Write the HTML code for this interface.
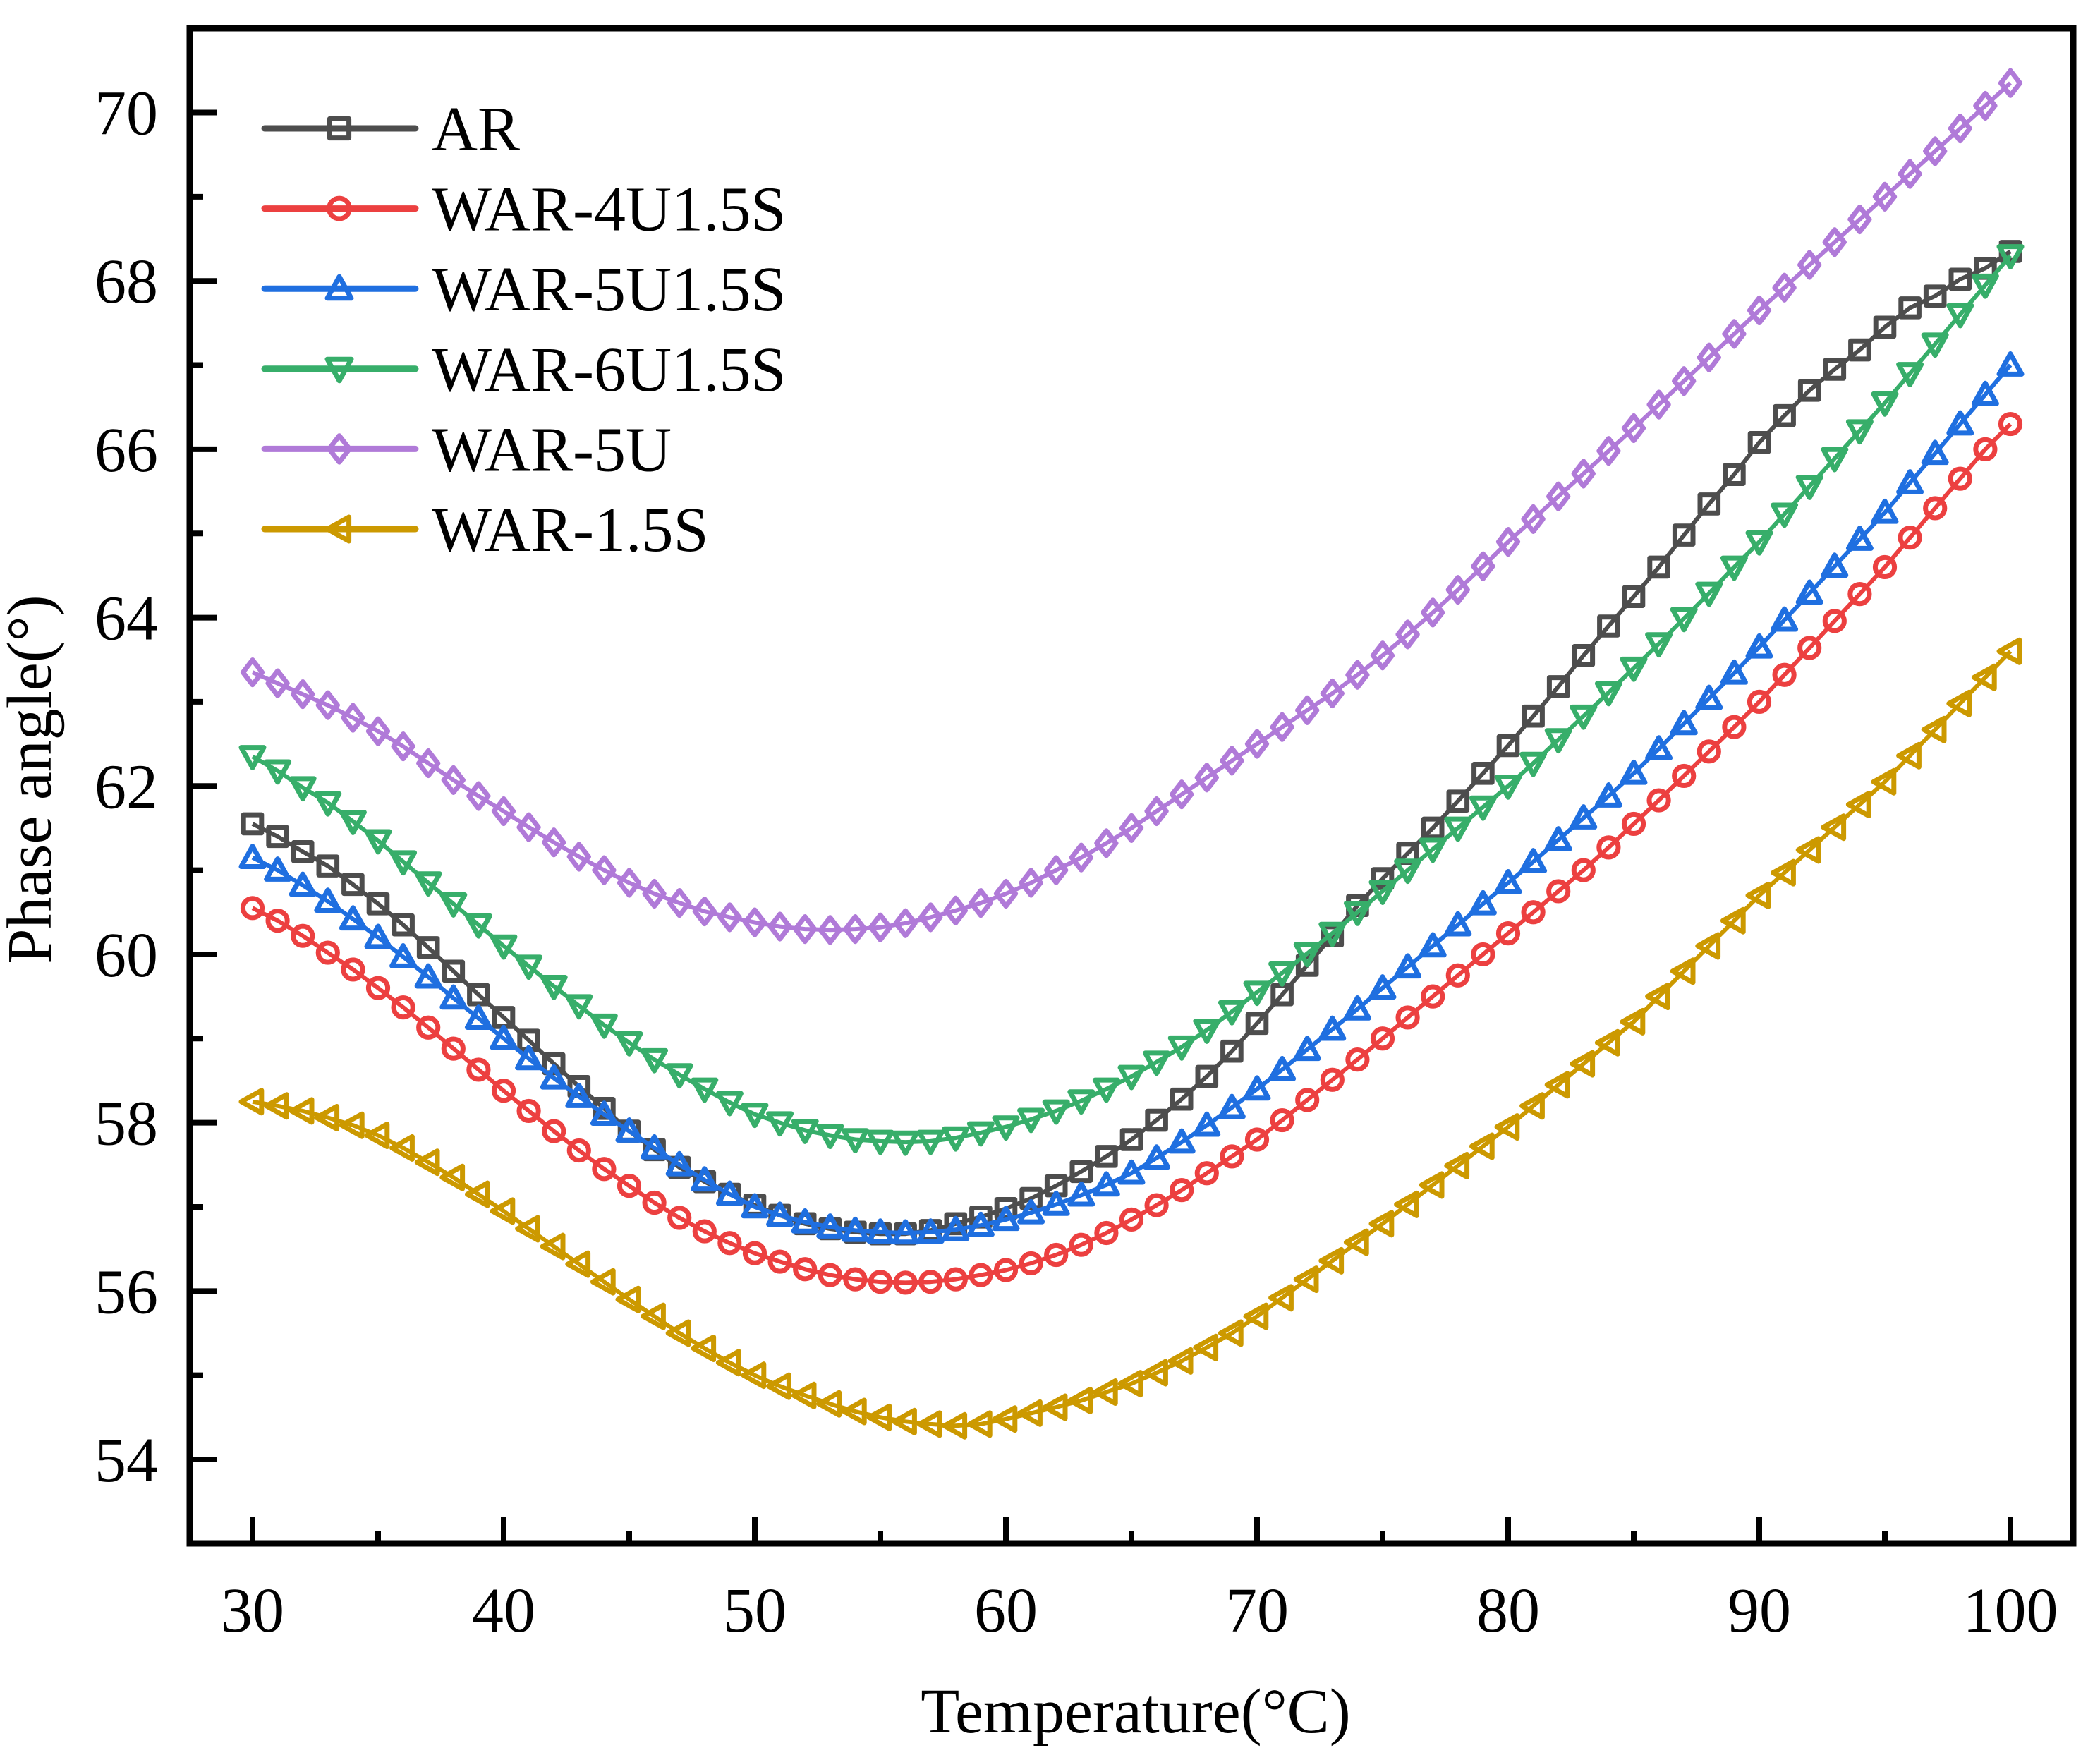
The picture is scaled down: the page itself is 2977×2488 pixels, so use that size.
<!DOCTYPE html>
<html><head><meta charset="utf-8"><style>
html,body{margin:0;padding:0;background:#fff;}
svg{display:block;font-family:"Liberation Serif",serif;}
</style></head><body>
<svg id="chart" width="2977" height="2488" viewBox="0 0 2977 2488" xmlns="http://www.w3.org/2000/svg">
<rect x="0" y="0" width="2977" height="2488" fill="#fff"/>
<g id="plot"></g>
<g id="axes"></g>
<g id="legend"></g>
<text x="1610" y="2456" font-size="90" text-anchor="middle">Temperature(°C)</text>
<text transform="translate(72,1105) rotate(-90)" font-size="90" text-anchor="middle">Phase angle(°)</text>
</svg>
<script>
const temps = [];
for (let t = 30; t <= 100; t++) temps.push(t);
const seriesNames = ["AR","WAR-4U1.5S","WAR-5U1.5S","WAR-6U1.5S","WAR-5U","WAR-1.5S"];
const arValues = [61.55,61.4,61.22,61.05,60.83,60.6,60.35,60.08,59.8,59.52,59.25,58.98,58.7,58.43,58.17,57.9,57.68,57.47,57.3,57.15,57.02,56.9,56.8,56.74,56.7,56.68,56.68,56.72,56.8,56.88,56.98,57.1,57.25,57.42,57.6,57.8,58.03,58.28,58.55,58.85,59.18,59.52,59.87,60.22,60.58,60.9,61.2,61.5,61.82,62.15,62.48,62.83,63.18,63.55,63.9,64.25,64.6,64.98,65.35,65.7,66.08,66.4,66.7,66.95,67.18,67.45,67.68,67.82,68.02,68.15,68.35];
const war4u15sValues = [60.55,60.4,60.22,60.02,59.82,59.6,59.37,59.13,58.88,58.63,58.38,58.14,57.9,57.67,57.45,57.25,57.05,56.87,56.71,56.57,56.45,56.35,56.26,56.19,56.14,56.11,56.1,56.11,56.14,56.19,56.25,56.33,56.43,56.55,56.69,56.85,57.02,57.2,57.4,57.6,57.8,58.03,58.27,58.51,58.75,59.0,59.25,59.5,59.75,60.0,60.25,60.5,60.75,61.0,61.27,61.55,61.83,62.12,62.41,62.7,63.0,63.32,63.64,63.96,64.28,64.6,64.95,65.3,65.65,66.0,66.3];
const war5u15sValues = [61.15,61.0,60.82,60.63,60.42,60.2,59.97,59.73,59.48,59.24,59.0,58.76,58.53,58.31,58.1,57.9,57.7,57.5,57.32,57.15,57.0,56.9,56.82,56.76,56.72,56.7,56.69,56.7,56.73,56.78,56.85,56.93,57.03,57.14,57.26,57.4,57.58,57.77,57.97,58.18,58.4,58.63,58.87,59.11,59.35,59.6,59.85,60.1,60.35,60.6,60.85,61.1,61.36,61.62,61.88,62.15,62.44,62.74,63.04,63.34,63.65,63.97,64.29,64.61,64.93,65.25,65.6,65.95,66.3,66.65,67.0];
const war6u15sValues = [62.35,62.18,61.98,61.8,61.58,61.35,61.1,60.85,60.6,60.35,60.1,59.86,59.62,59.39,59.16,58.95,58.75,58.57,58.4,58.24,58.1,58.0,57.91,57.85,57.8,57.78,57.77,57.78,57.82,57.88,57.95,58.04,58.14,58.26,58.4,58.55,58.72,58.9,59.1,59.32,59.55,59.78,60.01,60.25,60.5,60.75,61.0,61.25,61.5,61.75,62.0,62.27,62.55,62.83,63.11,63.4,63.69,63.99,64.29,64.6,64.9,65.23,65.56,65.89,66.22,66.55,66.9,67.25,67.6,67.95,68.3];
const war5uValues = [63.35,63.22,63.09,62.96,62.81,62.65,62.47,62.27,62.07,61.88,61.7,61.51,61.33,61.16,61.0,60.85,60.72,60.61,60.51,60.44,60.38,60.33,60.3,60.29,60.3,60.32,60.37,60.44,60.52,60.61,60.72,60.85,61.0,61.15,61.32,61.5,61.7,61.9,62.1,62.3,62.5,62.7,62.9,63.1,63.32,63.55,63.8,64.06,64.33,64.61,64.9,65.17,65.44,65.71,65.98,66.25,66.53,66.81,67.09,67.37,67.65,67.92,68.19,68.46,68.73,69.0,69.27,69.54,69.81,70.08,70.35];
const war15sValues = [58.25,58.2,58.14,58.06,57.97,57.85,57.7,57.53,57.35,57.15,56.95,56.74,56.53,56.32,56.11,55.9,55.7,55.5,55.32,55.15,55.0,54.87,54.76,54.66,54.57,54.5,54.45,54.42,54.4,54.42,54.48,54.55,54.62,54.7,54.8,54.9,55.03,55.17,55.33,55.5,55.7,55.92,56.14,56.36,56.58,56.8,57.03,57.26,57.49,57.72,57.95,58.2,58.45,58.7,58.95,59.2,59.5,59.8,60.1,60.4,60.7,60.97,61.24,61.51,61.78,62.05,62.36,62.67,62.98,63.29,63.6];
const xTicks = [30,40,50,60,70,80,90,100];
const yTicks = [54,56,58,60,62,64,66,68,70];

const NS = "http://www.w3.org/2000/svg";
const L = 269, R = 2939, T = 40, B = 2188;
function xs(v){ return 358 + (v - 30) * (2850 - 358) / 70; }
function ys(v){ return 2069 - (v - 54) * (2069 - 159.5) / 16; }
function mk(tag, attrs, parent){ const e = document.createElementNS(NS, tag); for (const k in attrs) e.setAttribute(k, attrs[k]); parent.appendChild(e); return e; }

const colors = ["#4d4d4d","#ec4040","#1f6fe0","#37ae6a","#b07ad8","#cc9900"];
const shapes = ["square","circle","up","down","diamond","left"];
const allValues = [arValues, war4u15sValues, war5u15sValues, war6u15sValues, war5uValues, war15sValues];
const slugs = ["ar","war-4u1-5s","war-5u1-5s","war-6u1-5s","war-5u","war-1-5s"];

function marker(shape, x, y, s, color, parent){
  const h = s/2;
  const st = {fill:"none", stroke:color, "stroke-width":7, "stroke-linejoin":"round"};
  let e;
  if (shape === "square") e = mk("rect", Object.assign({x:x-h*0.8, y:y-h*0.8, width:s*0.8, height:s*0.8}, st), parent);
  else if (shape === "circle") e = mk("circle", Object.assign({cx:x, cy:y, r:h*0.85}, st), parent);
  else if (shape === "up") e = mk("polygon", Object.assign({points:`${x},${y-h} ${x+h},${y+h*0.8} ${x-h},${y+h*0.8}`}, st), parent);
  else if (shape === "down") e = mk("polygon", Object.assign({points:`${x},${y+h} ${x+h},${y-h*0.8} ${x-h},${y-h*0.8}`}, st), parent);
  else if (shape === "diamond") e = mk("polygon", Object.assign({points:`${x},${y-h*1.1} ${x+h*0.85},${y} ${x},${y+h*1.1} ${x-h*0.85},${y}`}, st), parent);
  else e = mk("polygon", Object.assign({points:`${x-h},${y} ${x+h*0.8},${y-h} ${x+h*0.8},${y+h}`}, st), parent);
  return e;
}

const plot = document.getElementById("plot");
allValues.forEach((vals, si) => {
  const g = mk("g", {}, plot);
  
  
  const pts = vals.map((v, i) => xs(temps[i]).toFixed(1) + "," + ys(v).toFixed(1)).join(" ");
  const line = mk("polyline", {points:pts, fill:"none", stroke:colors[si], "stroke-width":6, "stroke-linejoin":"round"}, g);
  
  
  vals.forEach((v, i) => {
    const m = marker(shapes[si], xs(temps[i]), ys(v), 32, colors[si], g);
    
    
  });
});

const axes = document.getElementById("axes");
const frame = mk("rect", {x:L, y:T, width:R-L, height:B-T, fill:"none", stroke:"#000", "stroke-width":9}, axes);


for (let v = 30; v <= 100; v += 5) {
  const major = v % 10 === 0;
  const t = mk("line", {x1:xs(v), x2:xs(v), y1:B, y2:B - (major ? 38 : 18), stroke:"#000", "stroke-width":8}, axes);
  
  
}
xTicks.forEach(v => {
  const t = mk("text", {x:xs(v), y:2313, "font-size":90, "text-anchor":"middle"}, axes);
  t.textContent = v;
  
  
});
for (let v = 54; v <= 70; v += 1) {
  const major = v % 2 === 0;
  const t = mk("line", {x1:L, x2:L + (major ? 38 : 19), y1:ys(v), y2:ys(v), stroke:"#000", "stroke-width":8}, axes);
  
  
}
yTicks.forEach(v => {
  const t = mk("text", {x:224, y:ys(v) + 31, "font-size":90, "text-anchor":"end"}, axes);
  t.textContent = v;
  
  
});

const legend = document.getElementById("legend");
seriesNames.forEach((name, i) => {
  const y = 182 + i * 113.6;
  const g = mk("g", {}, legend);
  
  
  mk("line", {x1:375, x2:589, y1:y, y2:y, stroke:colors[i], "stroke-width":9, "stroke-linecap":"round"}, g);
  marker(shapes[i], 481, y, 34, colors[i], g);
  const t = mk("text", {x:612, y:y + 31, "font-size":90}, g);
  t.textContent = name;
});
</script>
</body></html>
